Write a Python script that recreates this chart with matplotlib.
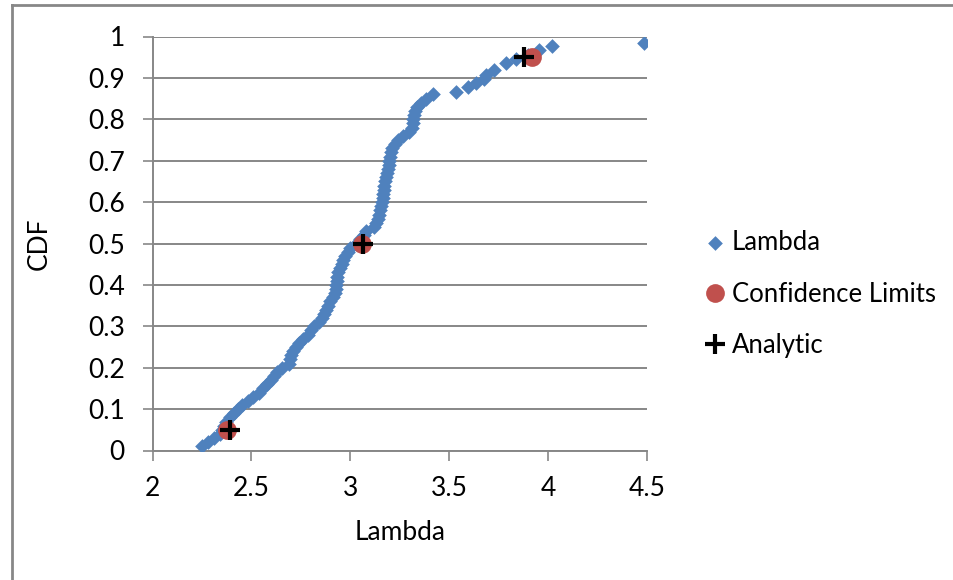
import matplotlib
matplotlib.use("Agg")
import matplotlib.pyplot as plt
from matplotlib.lines import Line2D

plt.rcParams['font.family'] = ['Lato', 'DejaVu Sans']

# ---- data ----
lambda_cdf = [0.01, 0.02, 0.03, 0.04, 0.05, 0.06, 0.07, 0.08, 0.09, 0.10,
              0.11, 0.12, 0.13, 0.14, 0.15, 0.16, 0.17, 0.18, 0.19, 0.20,
              0.21, 0.22, 0.23, 0.24, 0.25, 0.26, 0.27, 0.28, 0.29, 0.30,
              0.31, 0.32, 0.33, 0.34, 0.35, 0.36, 0.37, 0.38, 0.39, 0.40,
              0.41, 0.42, 0.43, 0.44, 0.45, 0.46, 0.47, 0.48, 0.49, 0.50,
              0.51, 0.52, 0.53, 0.54, 0.55, 0.56, 0.57, 0.58, 0.59, 0.60,
              0.61, 0.62, 0.63, 0.64, 0.65, 0.66, 0.67, 0.68, 0.69, 0.70,
              0.71, 0.72, 0.73, 0.74, 0.75, 0.76, 0.77, 0.78, 0.79, 0.80,
              0.81, 0.82, 0.83, 0.84, 0.85, 0.86, 0.867, 0.877, 0.887, 0.897,
              0.906, 0.919, 0.935, 0.945, 0.955, 0.967, 0.977, 0.985]
lambda_x = [2.25, 2.28, 2.31, 2.34, 2.35, 2.36, 2.37, 2.39, 2.41, 2.43,
            2.45, 2.48, 2.51, 2.54, 2.56, 2.58, 2.60, 2.615, 2.63, 2.655,
            2.69, 2.695, 2.70, 2.71, 2.725, 2.74, 2.76, 2.785, 2.80, 2.815,
            2.84, 2.855, 2.865, 2.875, 2.885, 2.895, 2.91, 2.925, 2.93, 2.93,
            2.932, 2.935, 2.94, 2.95, 2.96, 2.965, 2.975, 2.99, 3.00, 3.03,
            3.05, 3.07, 3.08, 3.12, 3.13, 3.14, 3.145, 3.15, 3.155, 3.16,
            3.163, 3.166, 3.17, 3.173, 3.176, 3.18, 3.185, 3.19, 3.195, 3.198,
            3.20, 3.205, 3.21, 3.225, 3.24, 3.265, 3.295, 3.31, 3.315, 3.318,
            3.32, 3.325, 3.34, 3.36, 3.385, 3.42, 3.535, 3.594, 3.636, 3.675,
            3.685, 3.729, 3.788, 3.84, 3.90, 3.956, 4.023, 4.486]

conf_x = [2.377, 3.06, 3.922]
conf_cdf = [0.05, 0.50, 0.95]

analytic_x = [2.39, 3.065, 3.88]
analytic_cdf = [0.05, 0.50, 0.95]

x_ticks = [2, 2.5, 3, 3.5, 4, 4.5]
y_ticks = [0, 0.1, 0.2, 0.3, 0.4, 0.5, 0.6, 0.7, 0.8, 0.9, 1]

# ---- figure ----
W, H = 954, 580
fig = plt.figure(figsize=(W / 100, H / 100), dpi=100)
ax = fig.add_axes([152.7 / W, 1 - 450.5 / H, (646.7 - 152.7) / W, (450.5 - 36.5) / H])

gray = '#878787'
blue = '#4F81BD'
red = '#C0504D'

ax.scatter(lambda_x, lambda_cdf, marker='D', s=56, color=blue, linewidths=0,
           zorder=3, label='Lambda')
ax.plot(conf_x, conf_cdf, 'o', ms=13.5, color=red, mew=0, zorder=4,
        label='Confidence Limits')
ax.plot(analytic_x, analytic_cdf, '+', ms=14, color='black', mew=3, zorder=5,
        label='Analytic')

ax.set_xlim(2, 4.5)
ax.set_ylim(0, 1)
ax.set_xticks(x_ticks)
ax.set_xticklabels(['2', '2.5', '3', '3.5', '4', '4.5'])
ax.set_yticks(y_ticks)
ax.set_yticklabels(['0', '0.1', '0.2', '0.3', '0.4', '0.5', '0.6', '0.7', '0.8', '0.9', '1'])

ax.yaxis.grid(True, color=gray, linewidth=1.4)
ax.set_axisbelow(True)
for s in ['top', 'right']:
    ax.spines[s].set_visible(False)
for s in ['left', 'bottom']:
    ax.spines[s].set_color(gray)
    ax.spines[s].set_linewidth(1.4)

ax.tick_params(axis='both', direction='out', length=7, width=1.2, color=gray,
               labelsize=19, labelcolor='black')
ax.tick_params(axis='y', pad=13)
ax.tick_params(axis='x', pad=11)

ax.set_xlabel('Lambda', fontsize=19, labelpad=14)
ax.set_ylabel('CDF', fontsize=19, labelpad=26)

leg = fig.legend(loc='center left', bbox_to_anchor=(706 / W, 1 - 294 / H),
                 frameon=False, fontsize=18.5, handlelength=0.7,
                 handletextpad=0.3, labelspacing=1.05, markerscale=1.0,
                 scatterpoints=1, numpoints=1, borderaxespad=0, borderpad=0)

# outer frame (left and top edges)
fig.add_artist(Line2D([12 / W, 12 / W], [0, 1 - 5 / H], transform=fig.transFigure,
                      color='#878787', linewidth=2))
fig.add_artist(Line2D([12 / W, 1], [1 - 5 / H, 1 - 5 / H], transform=fig.transFigure,
                      color='#878787', linewidth=2))

fig.savefig('out.png', dpi=100)
